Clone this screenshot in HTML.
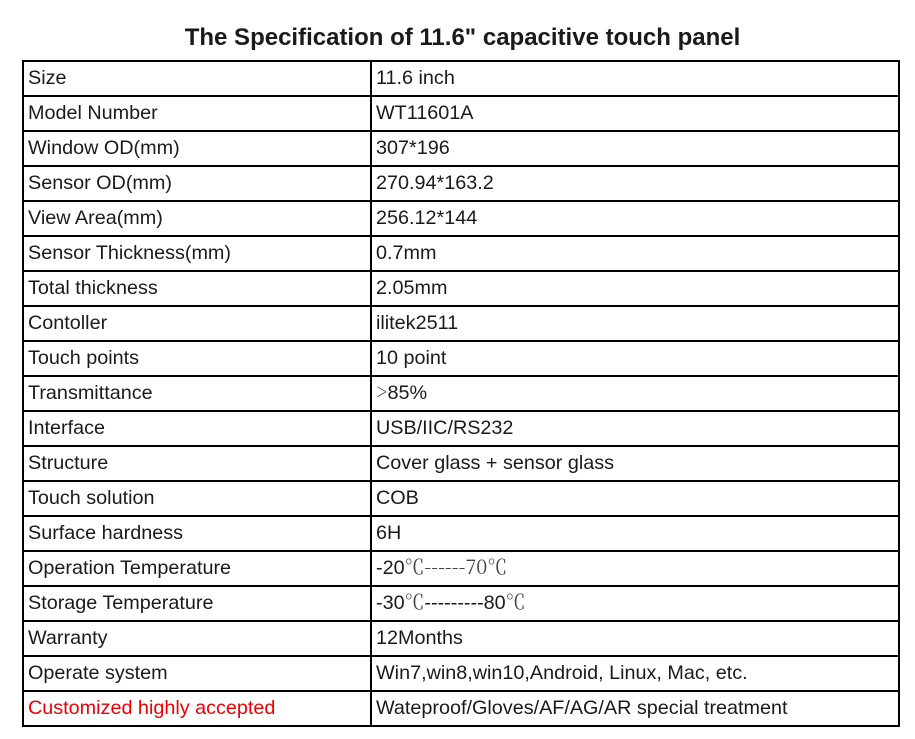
<!DOCTYPE html>
<html><head><meta charset="utf-8"><style>
body{margin:0;width:915px;height:739px;background:#fff;position:relative;overflow:hidden;font-family:"Liberation Sans",Arial,sans-serif;color:#1a1a1a}
.t{position:absolute;top:23px;left:0;width:925px;text-align:center;font-weight:bold;font-size:24px;line-height:30px}
.h{position:absolute;left:22px;width:878px;height:2px;background:#000}
.v{position:absolute;top:60px;width:2px;height:667px;background:#000}
.c{position:absolute;font-size:19.8px;line-height:35px;height:35px;white-space:nowrap}
.s{font-family:"Noto Serif CJK SC","Liberation Serif",serif;color:#444;line-height:0}
</style></head><body>
<div class="t">The Specification of 11.6" capacitive touch panel</div>
<div class="v" style="left:22px"></div>
<div class="v" style="left:370px"></div>
<div class="v" style="left:898px"></div>
<div id="rows"></div>
<script>
var d=[["Size","11.6 inch"],["Model Number","WT11601A"],["Window OD(mm)","307*196"],["Sensor OD(mm)","270.94*163.2"],["View Area(mm)","256.12*144"],["Sensor Thickness(mm)","0.7mm"],["Total thickness","2.05mm"],["Contoller","ilitek2511"],["Touch points","10 point"],["Transmittance","<span class='s'>&gt;</span>85%"],["Interface","USB/IIC/RS232"],["Structure","Cover glass + sensor glass"],["Touch solution","COB"],["Surface hardness","6H"],["Operation Temperature","-20<span class='s'>℃------70℃</span>"],["Storage Temperature","-30<span class='s'>℃</span>---------80<span class='s'>℃</span>"],["Warranty","12Months"],["Operate system","Win7,win8,win10,Android, Linux, Mac, etc."],["<span style='color:#e00'>Customized highly accepted</span>","Wateproof/Gloves/AF/AG/AR special treatment"]];
var h="";
for(var i=0;i<=19;i++)h+="<div class='h' style='top:"+(60+35*i)+"px'></div>";
for(var i=0;i<19;i++){var y=61+35*i;h+="<div class='c' style='left:28px;top:"+y+"px'>"+d[i][0]+"</div><div class='c' style='left:376px;top:"+y+"px'>"+d[i][1]+"</div>";}
document.getElementById("rows").innerHTML=h;
</script>
</body></html>
